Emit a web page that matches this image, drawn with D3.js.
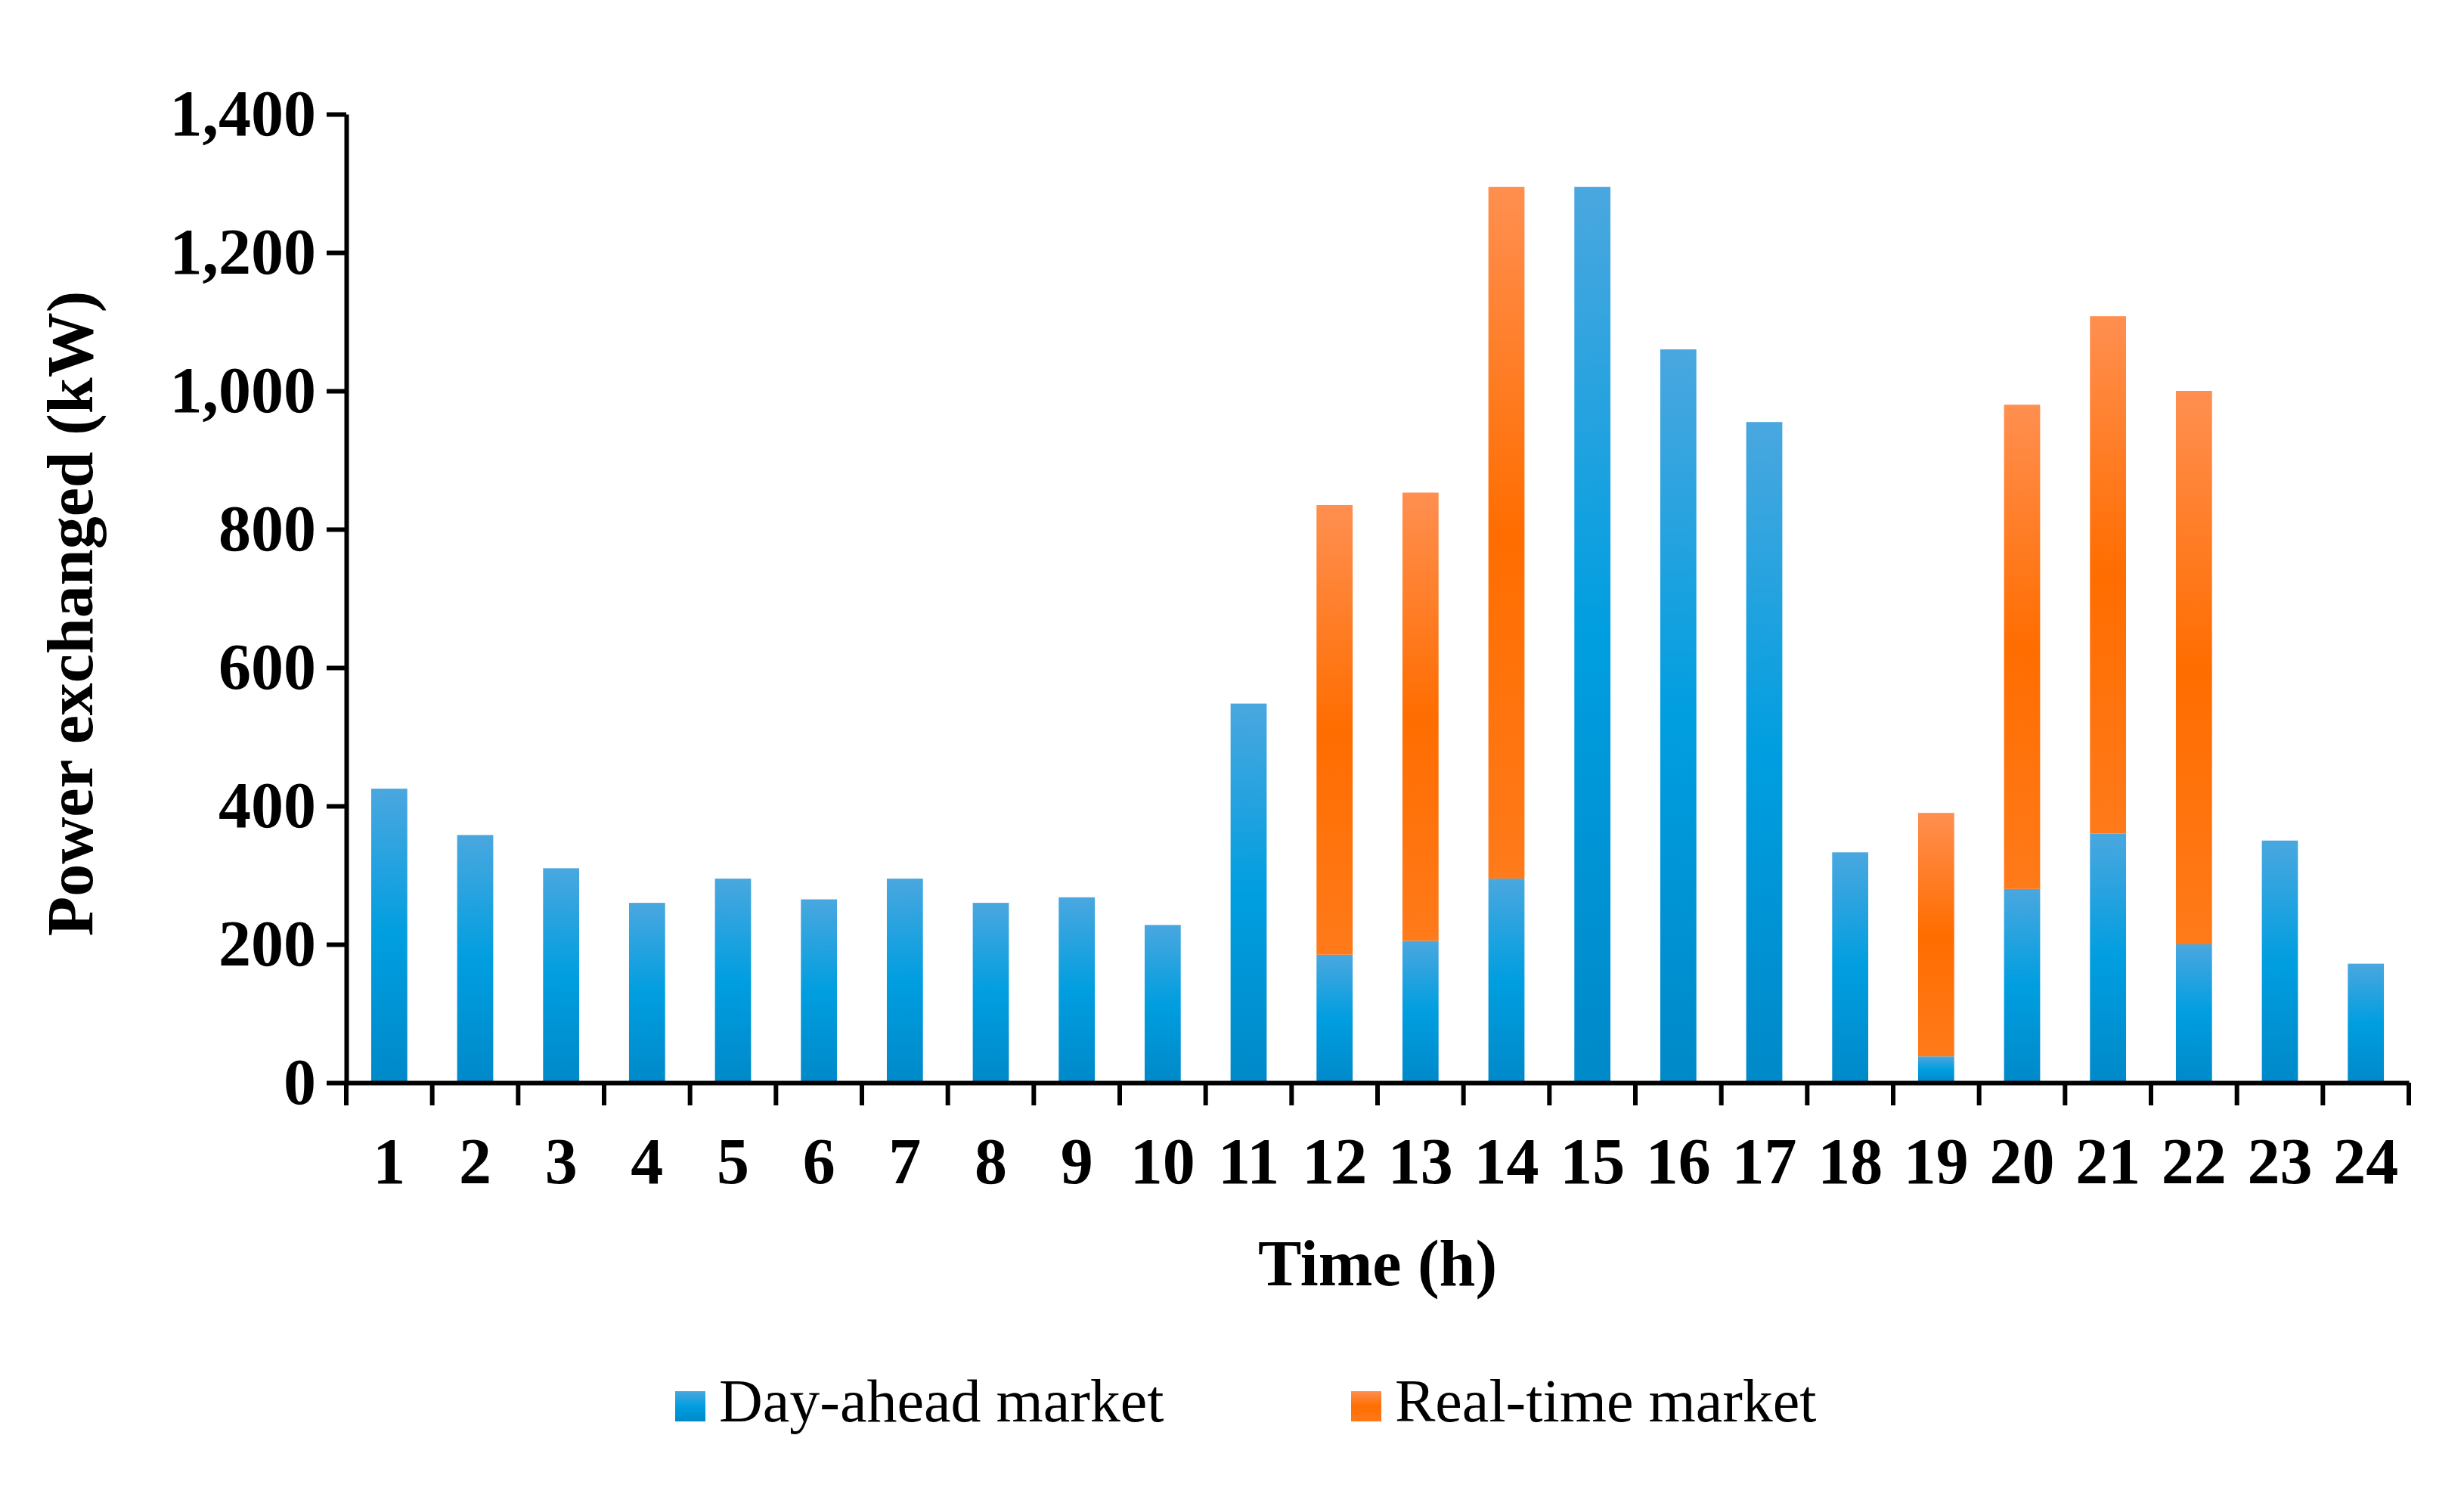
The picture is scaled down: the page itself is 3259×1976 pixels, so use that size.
<!DOCTYPE html>
<html><head><meta charset="utf-8">
<script src="https://cdn.jsdelivr.net/npm/d3@7"></script>
<style>body{margin:0;background:#fff}</style>
</head><body>
<script>
const hours = d3.range(1, 25).map(String);
const dayAhead = [425,358,310,260,295,265,295,260,268,228,548,185,205,295,1295,1060,955,333,38,280,360,200,350,172];
const realTime = [0,0,0,0,0,0,0,0,0,0,0,650,648,1000,0,0,0,0,352,700,748,800,0,0];
const yTicks = [0,200,400,600,800,1000,1200,1400];
const seriesNames = ['Day-ahead market', 'Real-time market'];

const W = 3259, H = 1976;
const m = {left: 458, right: 3186, top: 151, bottom: 1432};
const svg = d3.select('body').append('svg').attr('width', W).attr('height', H);
const defs = svg.append('defs');

function grad(id, top, mid, bot) {
	const g = defs.append('linearGradient').attr('id', id)
		.attr('x1', 0).attr('y1', 0).attr('x2', 0).attr('y2', 1);
	g.append('stop').attr('offset', '0%').attr('stop-color', top);
	g.append('stop').attr('offset', '50%').attr('stop-color', mid);
	g.append('stop').attr('offset', '100%').attr('stop-color', bot);
}
grad('g-blue', '#4aa7df', '#009ee0', '#0089c9');
grad('g-orange', '#ff8f50', '#ff6d00', '#ff7a1a');

const x = d3.scaleBand().domain(hours).range([m.left, m.right]).paddingInner(0.58).paddingOuter(0.29);
const y = d3.scaleLinear().domain([0, 1400]).range([m.bottom, m.top]);

const stack = d3.stack().keys([0, 1]).value((d, k) => d[k]);
const rows = hours.map((h, i) => [dayAhead[i], realTime[i]]);
const layers = stack(rows);
const fills = ['url(#g-blue)', 'url(#g-orange)'];

layers.forEach((layer, k) => {
	svg.append('g').selectAll('rect').data(layer).join('rect')
		.attr('x', (d, i) => x(hours[i]))
		.attr('width', x.bandwidth())
		.attr('y', d => y(d[1]))
		.attr('height', d => y(d[0]) - y(d[1]))
		.attr('fill', fills[k]);
});

// y axis
const ya = svg.append('g').attr('transform', `translate(${m.left},0)`)
	.call(d3.axisLeft(y).tickValues(yTicks).tickSize(26).tickPadding(14).tickSizeOuter(0));
ya.select('.domain').attr('stroke-width', 6);
ya.selectAll('.tick line').attr('stroke-width', 6);
ya.selectAll('text').attr('font-family', 'Liberation Serif').attr('font-weight', 'bold')
	.attr('font-size', 86).attr('fill', '#000');

// x axis
const xa = svg.append('g').attr('transform', `translate(0,${m.bottom})`)
	.call(d3.axisBottom(x).tickSize(0).tickPadding(72).tickSizeOuter(0));
xa.select('.domain').attr('stroke-width', 6);
xa.selectAll('text').attr('font-family', 'Liberation Serif').attr('font-weight', 'bold')
	.attr('font-size', 86).attr('fill', '#000');
const step = x.step();
const edges = d3.range(25).map(i => m.left + i * step * (m.right - m.left) / (step * 24));
svg.append('g').selectAll('line').data(edges).join('line')
	.attr('x1', d => d).attr('x2', d => d)
	.attr('y1', m.bottom).attr('y2', m.bottom + 30)
	.attr('stroke', '#000').attr('stroke-width', 6);

// titles
svg.append('text').attr('x', (m.left + m.right) / 2).attr('y', 1700)
	.attr('text-anchor', 'middle').attr('font-family', 'Liberation Serif').attr('font-weight', 'bold')
	.attr('font-size', 86).text('Time (h)');
svg.append('text').attr('transform', `translate(122,${(m.top + m.bottom) / 2 + 20}) rotate(-90)`)
	.attr('text-anchor', 'middle').attr('font-family', 'Liberation Serif').attr('font-weight', 'bold')
	.attr('font-size', 86).text('Power exchanged (kW)');

// legend
const lx = [893, 1787];
seriesNames.forEach((name, k) => {
	const g = svg.append('g').attr('transform', `translate(${lx[k]},1880)`);
	g.append('rect').attr('x', 0).attr('y', -40).attr('width', 40).attr('height', 40).attr('fill', fills[k]);
	g.append('text').attr('x', 58).attr('y', 0).attr('font-family', 'Liberation Serif')
		.attr('font-size', 80).text(name);
});
</script>
</body></html>
